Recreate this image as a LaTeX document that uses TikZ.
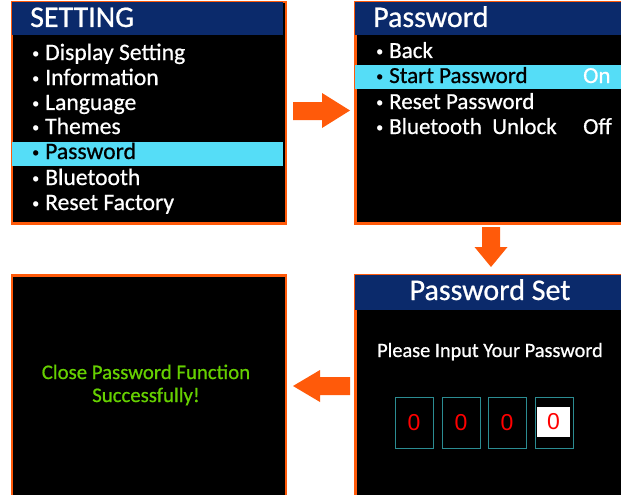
\documentclass[tikz,border=0pt]{standalone}
\usepackage{fontspec}
\setmainfont{Carlito}[FakeBold=0.7]
\newfontfamily\digitfont{Liberation Sans}
\definecolor{frameor}{HTML}{FF5A0A}
\definecolor{titleblue}{HTML}{0B2A6B}
\definecolor{hlcyan}{HTML}{55DDF7}
\definecolor{okgreen}{HTML}{66D000}
\definecolor{digitframe}{HTML}{2B8C92}
\definecolor{digitred}{HTML}{FF0000}
\newcommand\bul{\makebox[13pt][l]{\raisebox{2.2pt}{\fontsize{14}{14}\selectfont •}}}
\tikzset{
  screen/.style={draw=frameor, fill=black, line width=2.5pt, inner sep=0pt, anchor=north west},
  titletext/.style={text=white, anchor=base west, inner sep=0pt, font=\fontsize{30}{34}\selectfont},
  item/.style={text=white, anchor=base west, inner sep=0pt, font=\fontsize{23.6}{27}\selectfont},
  itemb/.style={item, font=\fontsize{23}{27}\selectfont},
  hlitem/.style={item, text=black},
  hlitemb/.style={itemb, text=black},
  digitbox/.style={draw=digitframe, line width=1pt, minimum width=38pt, minimum height=51pt, inner sep=0pt},
  digit/.style={text=digitred, font=\digitfont\fontsize{23}{26}\selectfont, inner sep=0pt},
  fatarrow/.style={fill=frameor}
}
\begin{document}
\begin{tikzpicture}[x=1pt,y=-1pt]
\useasboundingbox (0,0) rectangle (621,495);
\clip (0,0) rectangle (621,495);
% screens
\node[screen, minimum width=274pt, minimum height=221pt] (setting) at (10.5,1) {};
\node[screen, minimum width=280pt, minimum height=221pt] (pwmenu) at (354,1) {};
\node[screen, minimum width=280pt, minimum height=240pt] (pwset) at (354,274) {};
\node[screen, minimum width=274pt, minimum height=240pt] (done) at (10.5,274) {};
% title bars
\fill[titleblue] (11.75,2.25) rectangle (283.25,35);
\fill[titleblue] (355.25,2.25) rectangle (625,35);
\fill[titleblue] (355.25,275.25) rectangle (625,310);
% highlight rows
\fill[hlcyan] (11.75,142) rectangle (283.25,166);
\fill[hlcyan] (355.25,65) rectangle (625,89);
% SETTING screen
\node[titletext] (t1) at (30,27) {SETTING};
\node[item] (s1) at (32,60) {\bul Display Setting};
\node[item] (s2) at (32,85) {\bul Information};
\node[item] (s3) at (32,110) {\bul Language};
\node[item] (s4) at (32,134) {\bul Themes};
\node[hlitem] (s5) at (32,159) {\bul Password};
\node[item] (s6) at (32,185) {\bul Bluetooth};
\node[item] (s7) at (32,210) {\bul Reset Factory};
% Password screen
\node[titletext] (t2) at (373,27) {Password};
\node[itemb] (p1) at (376,58) {\bul Back};
\node[hlitemb] (p2) at (376,83) {\bul Start Password};
\node[itemb] (p2v) at (583,83) {On};
\node[itemb] (p3) at (376,109) {\bul Reset Password};
\node[itemb] (p4) at (376,134) {\bul Bluetooth\ \ Unlock};
\node[itemb] (p4v) at (583,134) {Off};
% Password Set screen
\node[text=white, anchor=base, inner sep=0pt, font=\fontsize{30}{34}\selectfont] (t3) at (490,300) {Password Set};
\node[text=white, anchor=base, inner sep=0pt, font=\fontsize{20.3}{24}\selectfont] (prompt) at (490,357) {Please Input Your Password};
\node[digitbox] (d1) at (414,422.5) {};
\node[digitbox] (d2) at (461,422.5) {};
\node[digitbox] (d3) at (507,422.5) {};
\node[digitbox] (d4) at (554,422.5) {};
\fill[white] (537,407) rectangle (570,437);
\node[digit] at (d1) {0};
\node[digit] at (d2) {0};
\node[digit] at (d3) {0};
\node[digit] at (553.5,422) {0};
% Done screen
\node[text=okgreen, align=center, inner sep=0pt, font=\fontsize{20.8}{23}\selectfont] (msg) at (146,385) {Close Password Function\\Successfully!};
% arrows
\fill[fatarrow] (293,102) -- (322,102) -- (322,93) -- (350,110.5) -- (322,128) -- (322,120) -- (293,120) -- cycle;
\fill[fatarrow] (482,227) -- (500,227) -- (500,247) -- (507.5,247) -- (491,267) -- (474.5,247) -- (482,247) -- cycle;
\fill[fatarrow] (350,377) -- (320,377) -- (320,370) -- (293,386) -- (320,402) -- (320,395) -- (350,395) -- cycle;
\end{tikzpicture}
\end{document}
